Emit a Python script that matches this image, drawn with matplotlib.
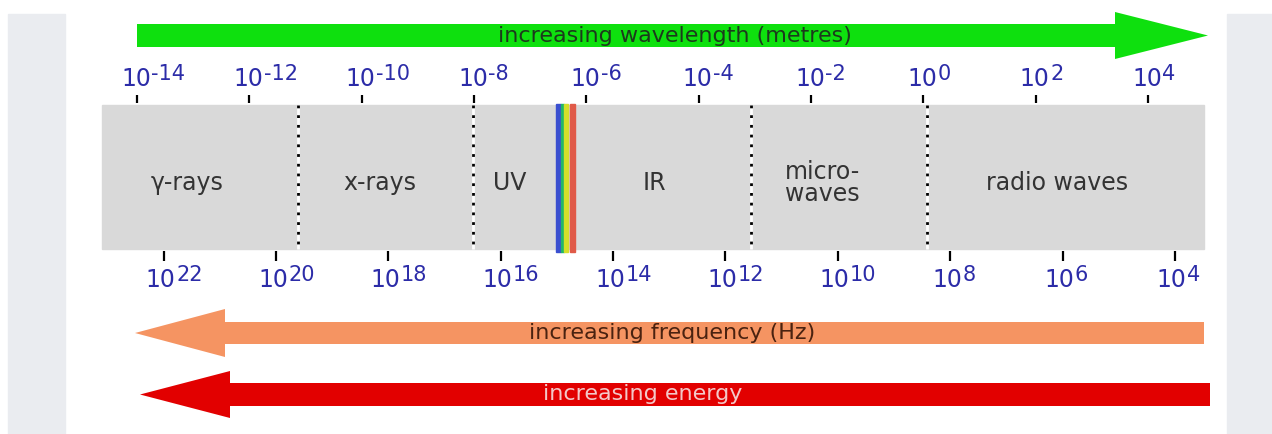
import numpy as np
import matplotlib.pyplot as plt
import matplotlib.patches as mpatches
from matplotlib.transforms import ScaledTranslation

# wavelength ticks (log10 metres) and frequency ticks (log10 Hz)
wave_exps = [-14, -12, -10, -8, -6, -4, -2, 0, 2, 4]
freq_exps = [22, 20, 18, 16, 14, 12, 10, 8, 6, 4]
c_light = 3e8

# bands along the wavelength axis (log10 metres)
band_names = ["γ-rays", "x-rays", "UV", "IR", "micro-\nwaves", "radio waves"]
band_label_pos = [-13.11, -9.67, -7.36, -4.78, -1.80, 2.38]
band_edges = [-14.62, -11.14, -8.02, -3.06, 0.06, 4.99]
visible_lo = [-6.54, -6.45, -6.39, -6.29]
visible_hi = [-6.45, -6.39, -6.33, -6.21]
visible_colors = ['#3a4fd0', '#22b868', '#d4e02a', '#e05a48']

# layout: pixels per decade and a helper to turn pixel lengths into decades
PX = 56.17
X0 = -14 - 137 / PX
def px(v):
    return v / PX
def xe(p):
    return X0 + p / PX

fig = plt.figure(figsize=(12.72, 4.35), dpi=100)
fig.patches.append(mpatches.Rectangle((8 / 1272, 0), 57 / 1272, 420 / 435,
                                      transform=fig.transFigure, color='#eaecf0', zorder=0))
fig.patches.append(mpatches.Rectangle((1227 / 1272, 0), 45 / 1272, 420 / 435,
                                      transform=fig.transFigure, color='#eaecf0', zorder=0))
ax = fig.add_axes([0, 0, 1, 1])
ax.set_xlim(X0, X0 + 1272 / PX)
ax.set_ylim(435, 0)
ax.axis('off')
ax.patch.set_alpha(0)

# grey spectrum box
ax.add_patch(mpatches.Rectangle((band_edges[0], 106), band_edges[-1] - band_edges[0], 144,
                                color='#d9d9d9', zorder=1))
for e in band_edges[1:-1]:
    ax.vlines(e, 106, 250, color='white', lw=2, zorder=2)
    ax.vlines(e, 106, 250, color='black', lw=2, linestyles=(0, (1, 2.5)), zorder=3)

for lo, hi, col in zip(visible_lo, visible_hi, visible_colors):
    ax.add_patch(mpatches.Rectangle((lo, 105), hi - lo, 148, color=col, zorder=4))

for name, pos in zip(band_names, band_label_pos):
    ax.text(pos, 183, name, ha='center', va='center', fontsize=17,
            color='#333333', linespacing=0.9, zorder=5)

lab_col = '#2c2ca8'

def power_label(x, y, exp_str, off):
    base = ax.text(x, y, '10', ha='left', va='baseline', fontsize=17,
                   color=lab_col, transform=ax.transData + off)
    ax.annotate(exp_str, xy=(1, 0), xycoords=base, xytext=(0.3, 7.8),
                textcoords='offset points', ha='left', va='baseline',
                fontsize=15, color=lab_col)

# wavelength ticks
top_off = ScaledTranslation(-16 / 100, 0, fig.dpi_scale_trans)
for e in wave_exps:
    ax.vlines(e, 96, 104, color='black', lw=1.6)
    power_label(e, 86, str(e), top_off)

# frequency ticks
bot_off = ScaledTranslation(-18 / 100, 0, fig.dpi_scale_trans)
for f in freq_exps:
    pos = np.log10(c_light) - f
    ax.vlines(pos, 252, 262, color='black', lw=1.6)
    power_label(pos, 287, str(f), bot_off)

# arrows
def arrow(x_tail, x_tip, y, body, head, head_len, color):
    a = mpatches.FancyArrow(x_tail, y, x_tip - x_tail, 0, width=body, head_width=head,
                            head_length=px(head_len), length_includes_head=True,
                            color=color, lw=0, zorder=2)
    ax.add_patch(a)

arrow(xe(137), xe(1208), 36.5, 23, 47, 93, '#0ee00e')
ax.text(xe(675), 36, 'increasing wavelength (metres)', ha='center', va='center',
        fontsize=16, color='#1c3a1c', zorder=5)

arrow(xe(1204), xe(135), 334, 22, 48, 90, '#f59462')
ax.text(xe(672), 333, 'increasing frequency (Hz)', ha='center', va='center',
        fontsize=16, color='#4a2210', zorder=5)

arrow(xe(1210), xe(140), 395.5, 23, 47, 90, '#e20000')
ax.text(xe(643), 394, 'increasing energy', ha='center', va='center',
        fontsize=16, color='#f3c8c8', zorder=5)

fig.savefig('out.png', dpi=100)
